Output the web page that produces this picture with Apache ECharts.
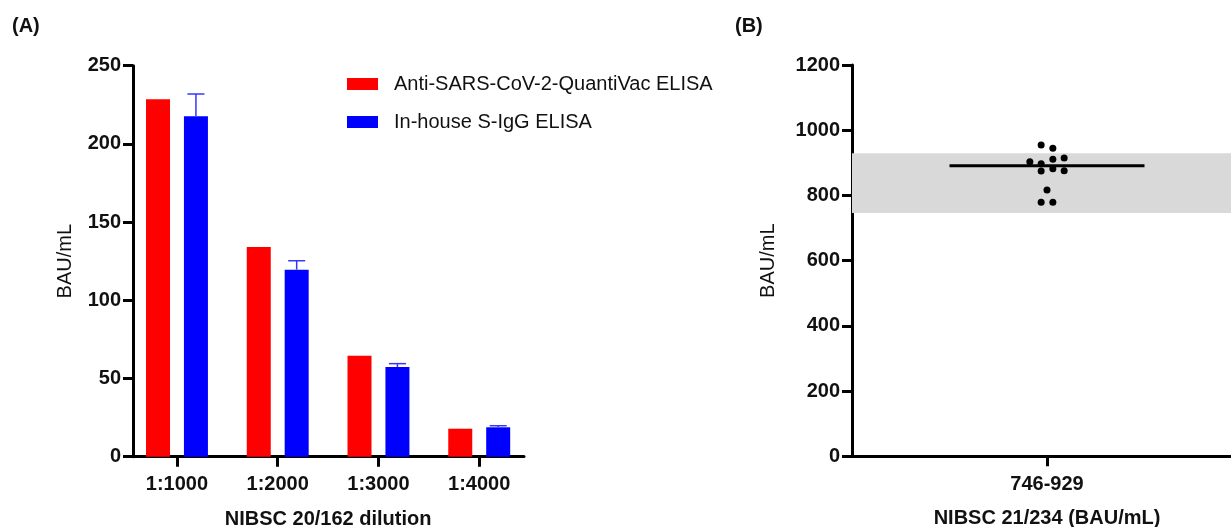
<!DOCTYPE html>
<html>
<head>
<meta charset="utf-8">
<script src="https://cdn.jsdelivr.net/npm/echarts@6/dist/echarts.min.js"></script>
<style>
html,body{margin:0;padding:0;background:#fff;}
#chart{width:1231px;height:527px;}
</style>
</head>
<body>
<div id="chart"></div>
<script>
// ---------- Data ----------
var dilutions = ['1:1000', '1:2000', '1:3000', '1:4000'];
var quantiVac = [228.5, 134.1, 64.6, 17.9];
var inHouse = [217.6, 119.6, 57.3, 18.8];
var inHouseUpper = [231.9, 125.3, 59.5, 19.8];
var seriesNames = ['Anti-SARS-CoV-2-QuantiVac ELISA', 'In-house S-IgG ELISA'];
var yTicksA = [0, 50, 100, 150, 200, 250];

var bCategory = ['746-929'];
var bRange = [746, 929];
var bValues = [955, 945, 911, 915, 903, 897, 875, 882, 876, 817, 779, 779];
var bJitter = [-0.015, 0.015, 0.015, 0.044, -0.044, -0.015, -0.015, 0.015, 0.044, 0, -0.015, 0.015];
var bMedian = 891;
var yTicksB = [0, 200, 400, 600, 800, 1000, 1200];

// ---------- Styles ----------
var FONT = '"Liberation Sans", Arial, sans-serif';
var BAR_W = 24, BAR_GAP = 0.58;
var axisLineStyle = {color: '#000', width: 3};
var plainNum = function (v) { return String(v); };

var chart = echarts.init(document.getElementById('chart'));

var option = {
  animation: false,
  backgroundColor: '#fff',
  textStyle: {fontFamily: FONT},
  title: [
    {text: '(A)', left: 12, top: 16, padding: 0, textStyle: {fontFamily: FONT, fontSize: 20, fontWeight: 'bold', color: '#111'}},
    {text: '(B)', left: 735, top: 16, padding: 0, textStyle: {fontFamily: FONT, fontSize: 20, fontWeight: 'bold', color: '#111'}}
  ],
  legend: [
    {data: [seriesNames[0]], left: 347, top: 74, padding: 0, itemWidth: 31, itemHeight: 12,
     icon: 'rect', textStyle: {fontFamily: FONT, fontSize: 20, color: '#111', lineHeight: 20, padding: [0,0,0,11]}},
    {data: [seriesNames[1]], left: 347, top: 112, padding: 0, itemWidth: 31, itemHeight: 12,
     icon: 'rect', textStyle: {fontFamily: FONT, fontSize: 20, color: '#111', lineHeight: 20, padding: [0,0,0,11]}}
  ],
  grid: [
    {left: 126.6, width: 403, top: 65.7, height: 391, containLabel: false, outerBoundsMode: 'none'},
    {left: 133, width: 391, top: 65.7, height: 391, containLabel: false, outerBoundsMode: 'none'},
    {left: 852, width: 390, top: 65, height: 391.3, containLabel: false, outerBoundsMode: 'none'}
  ],
  xAxis: [
    {gridIndex: 0, type: 'category', data: dilutions,
     axisLine: {show: false},
     axisTick: {show: true, alignWithLabel: true, length: 10, lineStyle: {color: '#000', width: 3}},
     axisLabel: {fontFamily: FONT, fontSize: 20, fontWeight: 'bold', color: '#111', margin: 18},
     name: 'NIBSC 20/162 dilution', nameLocation: 'middle', nameGap: 53,
     nameTextStyle: {fontFamily: FONT, fontSize: 20, fontWeight: 'bold', color: '#111'},
     splitLine: {show: false}},
    {gridIndex: 1, type: 'value', min: 0, max: 1,
     axisLine: {show: true, onZero: false, lineStyle: axisLineStyle},
     axisTick: {show: false}, axisLabel: {show: false}, splitLine: {show: false}},
    {gridIndex: 2, type: 'category', data: bCategory,
     axisLine: {show: true, onZero: false, lineStyle: axisLineStyle},
     axisTick: {show: true, alignWithLabel: true, length: 10, lineStyle: {color: '#000', width: 3}},
     axisLabel: {fontFamily: FONT, fontSize: 20, fontWeight: 'bold', color: '#111', margin: 18},
     name: 'NIBSC 21/234 (BAU/mL)', nameLocation: 'middle', nameGap: 52,
     nameTextStyle: {fontFamily: FONT, fontSize: 20, fontWeight: 'bold', color: '#111'},
     splitLine: {show: false}},
    {gridIndex: 2, type: 'value', min: -0.5, max: 0.5, show: false}
  ],
  yAxis: [
    {gridIndex: 0, type: 'value', min: 0, max: 250, interval: 50, show: false},
    {gridIndex: 1, type: 'value', min: yTicksA[0], max: yTicksA[yTicksA.length-1], interval: 50,
     axisLine: {show: true, onZero: false, lineStyle: axisLineStyle},
     axisTick: {show: true, length: 10, lineStyle: {color: '#000', width: 3}},
     axisLabel: {fontFamily: FONT, fontSize: 20, fontWeight: 'bold', color: '#111', margin: 12, formatter: plainNum},
     splitLine: {show: false},
     name: 'BAU/mL', nameLocation: 'middle', nameGap: 58,
     nameTextStyle: {fontFamily: FONT, fontSize: 20, color: '#111'}},
    {gridIndex: 2, type: 'value', min: yTicksB[0], max: yTicksB[yTicksB.length-1], interval: 200,
     axisLine: {show: true, onZero: false, lineStyle: axisLineStyle},
     axisTick: {show: true, length: 10, lineStyle: {color: '#000', width: 3}},
     axisLabel: {fontFamily: FONT, fontSize: 20, fontWeight: 'bold', color: '#111', margin: 12, formatter: plainNum},
     splitLine: {show: false},
     name: 'BAU/mL', nameLocation: 'middle', nameGap: 74,
     nameTextStyle: {fontFamily: FONT, fontSize: 20, color: '#111'}}
  ],
  series: [
    {name: seriesNames[0], type: 'bar', xAxisIndex: 0, yAxisIndex: 0, data: quantiVac,
     barWidth: BAR_W, barGap: (BAR_GAP*100) + '%', itemStyle: {color: '#ff0000'}, z: 2},
    {name: seriesNames[1], type: 'bar', xAxisIndex: 0, yAxisIndex: 0, data: inHouse,
     barWidth: BAR_W, barGap: (BAR_GAP*100) + '%', itemStyle: {color: '#0000ff'}, z: 2},
    {type: 'custom', xAxisIndex: 0, yAxisIndex: 0, z: 3,
     data: inHouse.map(function (v, i) { return [i, v, inHouseUpper[i]]; }),
     renderItem: function (params, api) {
       var off = (BAR_W + BAR_W * BAR_GAP) / 2;
       var p0 = api.coord([api.value(0), api.value(1)]);
       var p1 = api.coord([api.value(0), api.value(2)]);
       var x = p0[0] + off;
       var st = {stroke: '#3535ff', lineWidth: 1.5};
       return {type: 'group', children: [
         {type: 'line', shape: {x1: x, y1: p0[1], x2: x, y2: p1[1]}, style: st},
         {type: 'line', shape: {x1: x - 8.5, y1: p1[1], x2: x + 8.5, y2: p1[1]}, style: st}
       ]};
     }},
    {type: 'scatter', xAxisIndex: 3, yAxisIndex: 2, data: [], z: 1, silent: true,
     markArea: {silent: true, itemStyle: {color: '#d9d9d9'},
       data: [[{yAxis: bRange[0]}, {yAxis: bRange[1]}]]}},
    {type: 'line', xAxisIndex: 3, yAxisIndex: 2, z: 4, symbol: 'none', silent: true,
     data: [[-0.25, bMedian], [0.25, bMedian]],
     lineStyle: {color: '#000', width: 3}},
    {type: 'scatter', xAxisIndex: 3, yAxisIndex: 2, z: 5, symbolSize: 7,
     data: bValues.map(function (v, i) { return [bJitter[i], v]; }),
     itemStyle: {color: '#000', opacity: 1}}
  ]
};
chart.setOption(option);
</script>
</body>
</html>
